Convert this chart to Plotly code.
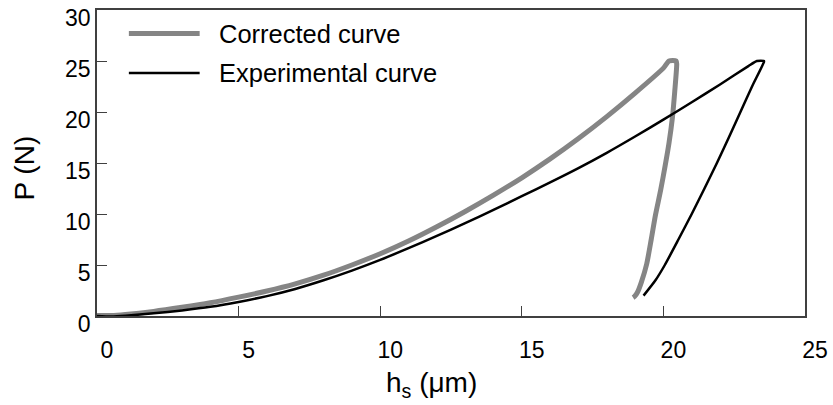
import plotly.graph_objects as go

# Corrected curve (loading, hold at peak, unloading)
h_cor_load = [0, 0.5, 1, 2, 3, 4, 5, 6, 7, 8, 9, 10, 11, 12, 13, 14, 15, 16, 17, 18, 19, 20, 20.2]
P_cor_load = [0.05, 0.05, 0.15, 0.45, 0.85, 1.3, 1.85, 2.45, 3.15, 4.0, 5.0, 6.1, 7.35, 8.75, 10.25, 11.85,
              13.55, 15.4, 17.4, 19.55, 21.85, 24.3, 25.0]
h_cor_hold = [20.45]
P_cor_hold = [25.0]
h_cor_unload = [20.47, 20.4, 20.32, 20.2, 20.06, 19.9, 19.72, 19.57, 19.41, 19.22, 19.08, 18.98, 18.93]
P_cor_unload = [24.7, 22.0, 19.5, 17.0, 14.7, 12.3, 9.9, 7.5, 5.1, 3.3, 2.3, 1.9, 1.8]

# Experimental curve (loading, hold at peak, unloading)
h_exp_load = [0, 0.5, 1, 2, 3, 4, 5, 6, 7, 8, 9, 10, 11, 12, 13, 14, 15, 16, 17, 18, 19, 20, 21, 22, 23, 23.3]
P_exp_load = [0.0, -0.05, 0.02, 0.26, 0.55, 0.9, 1.38, 1.95, 2.65, 3.5, 4.45, 5.5, 6.65, 7.85, 9.1, 10.4,
              11.75, 13.1, 14.5, 16.0, 17.6, 19.25, 20.95, 22.7, 24.5, 25.0]
h_exp_hold = [23.55]
P_exp_hold = [25.0]
h_exp_unload = [23.55, 23.13, 22.72, 22.31, 21.89, 21.45, 21.0, 20.53, 20.05, 19.72, 19.3]
P_exp_unload = [24.9, 22.5, 20.0, 17.5, 15.0, 12.5, 10.0, 7.5, 5.0, 3.5, 2.0]

x_ticks = [0, 5, 10, 15, 20, 25]
y_ticks = [0, 5, 10, 15, 20, 25, 30]

legend_names = ["Corrected curve", "Experimental curve"]
colors = ["#858585", "#000000"]

FONT = "Arial, Liberation Sans, sans-serif"

fig = go.Figure()
fig.add_trace(go.Scatter(
    x=h_cor_load + h_cor_hold + h_cor_unload,
    y=P_cor_load + P_cor_hold + P_cor_unload,
    mode="lines", name=legend_names[0],
    line=dict(color=colors[0], width=5, shape="spline", smoothing=0.6), showlegend=False,
))
fig.add_trace(go.Scatter(
    x=h_exp_load + h_exp_hold + h_exp_unload,
    y=P_exp_load + P_exp_hold + P_exp_unload,
    mode="lines", name=legend_names[1],
    line=dict(color=colors[1], width=2.5, shape="spline", smoothing=0.6), showlegend=False,
))

axis_common = dict(
    showline=True, mirror=True, linecolor="#404040", linewidth=1.5,
    ticks="inside", ticklen=10, tickwidth=1.2, tickcolor="#404040",
    showgrid=False, zeroline=False,
    tickfont=dict(family=FONT, size=23, color="black"),
)

fig.update_xaxes(range=[0, 25], tickvals=x_ticks, ticktext=[str(v) for v in x_ticks],
                 ticklabelshift=10, ticklabelstandoff=13, **axis_common)
fig.update_yaxes(range=[0, 30], tickvals=y_ticks, ticktext=[str(v) for v in y_ticks],
                 ticklabelshift=8, ticklabelstandoff=0, **axis_common)

# Legend: sample lines and labels inside the upper-left of the frame
legend_rows = [0.923, 0.794]
for name, col, w, yrow in zip(legend_names, colors, [5, 2.5], legend_rows):
    fig.add_shape(type="line", xref="paper", yref="paper",
                  x0=0.045, x1=0.145, y0=yrow, y1=yrow,
                  line=dict(color=col, width=w))
    fig.add_annotation(xref="paper", yref="paper", x=0.170, y=yrow,
                       xanchor="left", yanchor="middle", showarrow=False,
                       text=name, font=dict(family=FONT, size=25.5, color="black"))

# Axis titles
fig.add_annotation(xref="paper", yref="paper", x=0.472, y=-0.225,
                   xanchor="center", yanchor="middle", showarrow=False,
                   text="h<sub>s</sub> (μm)", font=dict(family=FONT, size=28, color="black"))
fig.add_annotation(xref="paper", yref="paper", x=-0.103, y=0.482,
                   xanchor="center", yanchor="middle", showarrow=False, textangle=-90,
                   text="P (N)", font=dict(family=FONT, size=28, color="black"))

fig.update_layout(
    width=833, height=405,
    margin=dict(l=97, r=26, t=5, b=89),
    plot_bgcolor="white", paper_bgcolor="white",
)

fig.write_html("out.html")
